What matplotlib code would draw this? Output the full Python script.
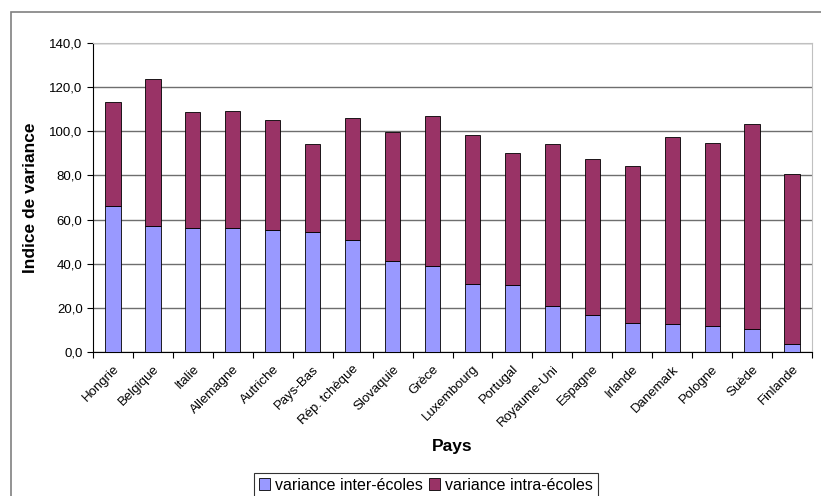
import matplotlib

matplotlib.use("Agg")
import matplotlib.pyplot as plt
import matplotlib.transforms as mtransforms
import numpy as np
from matplotlib.patches import Rectangle

plt.rcParams["font.family"] = ["Liberation Sans", "DejaVu Sans"]

pays = [
    "Hongrie", "Belgique", "Italie", "Allemagne", "Autriche", "Pays-Bas",
    "Rép. tchèque", "Slovaquie", "Grèce", "Luxembourg", "Portugal",
    "Royaume-Uni", "Espagne", "Irlande", "Danemark", "Pologne", "Suède",
    "Finlande",
]
inter_ecoles = [66.2, 57.0, 56.4, 56.2, 55.5, 54.2, 50.7, 41.4, 39.0, 30.7,
                30.3, 20.9, 16.8, 13.3, 12.9, 11.7, 10.6, 3.5]
total = [113.3, 123.6, 108.9, 109.2, 105.1, 94.1, 106.0, 99.5, 106.8, 98.5,
         90.3, 94.4, 87.3, 84.4, 97.3, 94.8, 103.5, 80.7]
intra_ecoles = [t - i for t, i in zip(total, inter_ecoles)]
yticks = [0, 20, 40, 60, 80, 100, 120, 140]

W, H = 821, 496
fig = plt.figure(figsize=(W / 100, H / 100), dpi=100)

# chart area frame (Excel style), partly cut by the image edge
fig.patches.append(Rectangle((11 / W, -0.1), 2, (1 - 12 / H) + 0.1,
                             transform=fig.transFigure, fill=False,
                             edgecolor="#808080", linewidth=1.2))

left, right, top, bottom = 93, 812, 43, 352
ax = fig.add_axes([left / W, 1 - bottom / H, (right - left) / W, (bottom - top) / H])

x = np.arange(len(pays))
ax.bar(x, inter_ecoles, width=0.38, color="#9999FF", edgecolor="#000000",
       linewidth=0.6, label="variance inter-écoles", zorder=3)
ax.bar(x, intra_ecoles, width=0.38, bottom=inter_ecoles, color="#993366",
       edgecolor="#000000", linewidth=0.6, label="variance intra-écoles", zorder=3)

ax.set_xlim(-0.5, len(pays) - 0.5)
ax.set_ylim(0, 140)
ax.set_yticks(yticks)
ax.set_yticklabels([f"{v:.1f}".replace(".", ",") for v in yticks], fontsize=9.5)
ax.yaxis.grid(True, color="#6e6e6e", linewidth=1.0, zorder=0)
ax.set_axisbelow(True)

ax.set_xticks(x)
ax.set_xticklabels(pays, rotation=45, ha="right", rotation_mode="anchor", fontsize=9.5)
shift = mtransforms.ScaledTranslation(-5 / 100, -2 / 100, fig.dpi_scale_trans)
for lbl in ax.get_xticklabels():
    lbl.set_transform(lbl.get_transform() + shift)
ax.set_xticks(np.arange(-0.5, len(pays)), minor=True)
ax.tick_params(axis="x", which="major", length=0, pad=8)
ax.tick_params(axis="x", which="minor", length=4, width=0.8, direction="out")
ax.tick_params(axis="y", length=4, width=0.8, direction="out")

for s in ["left", "bottom"]:
    ax.spines[s].set_color("#000000")
    ax.spines[s].set_linewidth(0.8)
ax.spines["right"].set_color("#c0c0c0")
ax.spines["top"].set_color("#c0c0c0")

ax.set_ylabel("Indice de variance", fontsize=12.5, fontweight="bold", labelpad=8)
fig.text((left + right) / 2 / W, 1 - 446 / H, "Pays", fontsize=12.5,
         fontweight="bold", ha="center", va="center")

leg = fig.legend(loc="center", bbox_to_anchor=(426 / W, 1 - 485 / H), ncol=2,
                 fontsize=11.5, frameon=True, fancybox=False, handlelength=0.7,
                 handleheight=0.7, handletextpad=0.3, columnspacing=0.4,
                 borderpad=0.3, borderaxespad=0)
leg.get_frame().set_edgecolor("#000000")
leg.get_frame().set_linewidth(0.8)

fig.savefig("out.png", dpi=100)
